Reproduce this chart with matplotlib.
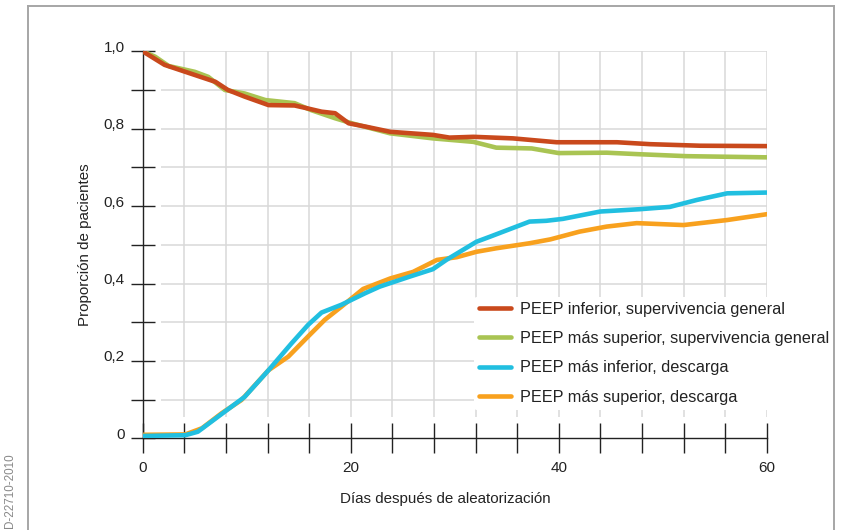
import matplotlib
matplotlib.use("Agg")
import matplotlib.pyplot as plt
from matplotlib.lines import Line2D
from matplotlib.transforms import ScaledTranslation

plt.rcParams['font.family'] = ['Liberation Sans', 'DejaVu Sans']

# curvas
dias_inf_sup = [0, 2.1, 4.1, 7, 8.2, 9.8, 12.1, 14.6, 15.6, 17.2, 18.5, 19.8, 21.5, 23.8,
                27.9, 29.5, 31.8, 35.6, 39.8, 45.6, 48.8, 53.6, 60]
inf_sup = [1.0, 0.965, 0.947, 0.921, 0.900, 0.883, 0.861, 0.860, 0.854, 0.844, 0.840, 0.814,
           0.805, 0.792, 0.784, 0.777, 0.779, 0.775, 0.765, 0.765, 0.760, 0.756, 0.755]

dias_sup_sup = [0, 1.2, 2.5, 5, 6.3, 7.9, 9.8, 11.8, 14.6, 16.2, 18.5, 20.1, 23.8, 27.9,
                31.8, 34, 37.4, 40, 44.6, 47.8, 52.3, 60]
sup_sup = [1.0, 0.986, 0.962, 0.947, 0.934, 0.900, 0.891, 0.874, 0.866, 0.848, 0.827, 0.814,
           0.788, 0.775, 0.766, 0.751, 0.749, 0.737, 0.738, 0.734, 0.729, 0.726]

dias_inf_desc = [0, 4.1, 5.3, 7.9, 9.8, 12.1, 14.3, 15.9, 17.2, 19.1, 21.4, 22.8, 25.7, 27.9,
                 29.2, 32.1, 33.4, 37.2, 38.8, 40.4, 44, 47.8, 50.7, 53.3, 56.2, 60]
inf_desc = [0.006, 0.008, 0.017, 0.069, 0.107, 0.176, 0.245, 0.293, 0.325, 0.345, 0.375, 0.392,
            0.418, 0.437, 0.461, 0.508, 0.521, 0.560, 0.562, 0.567, 0.586, 0.592, 0.598, 0.616,
            0.633, 0.635]

dias_sup_desc = [0, 4.1, 5.7, 7.6, 9.5, 12.1, 14, 15.9, 17.5, 19.1, 21.2, 23.8, 26, 28.3, 30.2,
                 32.1, 34, 37.2, 39.2, 42, 44.6, 47.5, 52, 56.2, 60]
sup_desc = [0.009, 0.010, 0.026, 0.065, 0.099, 0.176, 0.211, 0.263, 0.306, 0.340, 0.386, 0.413,
            0.430, 0.461, 0.468, 0.482, 0.491, 0.504, 0.514, 0.534, 0.547, 0.556, 0.551, 0.564,
            0.579]

etiquetas = ["PEEP inferior, supervivencia general",
             "PEEP más superior, supervivencia general",
             "PEEP más inferior, descarga",
             "PEEP más superior, descarga"]
colores = ["#C9491C", "#A9C453", "#21BFE0", "#F8A11E"]

x_ticks = list(range(0, 61, 4))
x_labels = ["0", "20", "40", "60"]
y_ticks = [i / 10 for i in range(11)]
y_labels = ["0", "0,2", "0,4", "0,6", "0,8", "1,0"]

fig = plt.figure(figsize=(8.41, 5.30), dpi=100)
ax = fig.add_axes([142.7 / 841, 1 - 438.3 / 530, 624 / 841, 387 / 530])
ax.set_xlim(0, 60)
ax.set_ylim(0, 1.0)

# rejilla con hueco junto a los ejes
grid_c = "#d9d9d9"
ax.hlines(y_ticks[1:], 1.76, 60, color=grid_c, lw=1.1, zorder=0)
ax.vlines(x_ticks[1:], 0.056, 1.0, color=grid_c, lw=1.1, zorder=0)

series = [(dias_inf_sup, inf_sup), (dias_sup_sup, sup_sup),
          (dias_inf_desc, inf_desc), (dias_sup_desc, sup_desc)]
zs = [4, 3, 6, 5]
handles = []
for (d, v), c, lab, z in zip(series, colores, etiquetas, zs):
    h, = ax.plot(d, v, color=c, lw=3.3, label=lab, zorder=z,
                 solid_capstyle='round', solid_joinstyle='round')
    handles.append(h)

for s in ['top', 'right']:
    ax.spines[s].set_visible(False)
for s in ['left', 'bottom']:
    ax.spines[s].set_color('#222222')
    ax.spines[s].set_linewidth(1.0)
ax.spines['left'].set_bounds(0, 1.0)

ax.set_xticks(x_ticks)
ax.set_xticklabels([str(t) if t % 20 == 0 else "" for t in x_ticks])
ax.set_yticks(y_ticks)
ax.set_yticklabels([y_labels[i // 2] if i % 2 == 0 else "" for i in range(11)])
ax.tick_params(axis='y', direction='inout', length=17.3, width=1.0, color='#222222',
               pad=4.3, labelsize=11, labelcolor='#222222')
ax.tick_params(axis='x', direction='inout', length=21.6, width=1.0, color='#222222',
               pad=5.5, labelsize=11, labelcolor='#222222')
for lab in ax.get_yticklabels():
    lab.set_transform(lab.get_transform() + ScaledTranslation(0, 0.05, fig.dpi_scale_trans))

ax.set_xlabel("Días después de aleatorización", fontsize=10.9, color='#222222')
ax.xaxis.set_label_coords((445 - 142.7) / 624, -(492 - 438.3) / 387)
ax.set_ylabel("Proporción de pacientes", fontsize=10.9, color='#222222')
ax.yaxis.set_label_coords(-(142.7 - 92) / 624, 0.5)

leg = ax.legend(handles=handles, loc='upper left', bbox_to_anchor=(474 / 841, 1 - 297 / 530),
                bbox_transform=fig.transFigure, frameon=True, facecolor='white',
                edgecolor='none', framealpha=1, fontsize=11.7, handlelength=2.0,
                handletextpad=0.55, labelspacing=0.88, borderpad=0.3, borderaxespad=0)
leg.set_zorder(8)
for t in leg.get_texts():
    t.set_color('#222222')

# marco exterior abierto por abajo
fc = '#a6a6a6'
fig.add_artist(Line2D([28 / 841, 28 / 841], [0, 1 - 6 / 530], color=fc, lw=1.4))
fig.add_artist(Line2D([28 / 841, 834 / 841], [1 - 6 / 530, 1 - 6 / 530], color=fc, lw=1.4))
fig.add_artist(Line2D([834 / 841, 834 / 841], [0, 1 - 6 / 530], color=fc, lw=1.4))

fig.text(10 / 841, 1 - 453 / 530, "D-22710-2010", rotation=90, ha='center', va='top',
         fontsize=8.4, color='#888888')

fig.savefig("out.png", dpi=100)
